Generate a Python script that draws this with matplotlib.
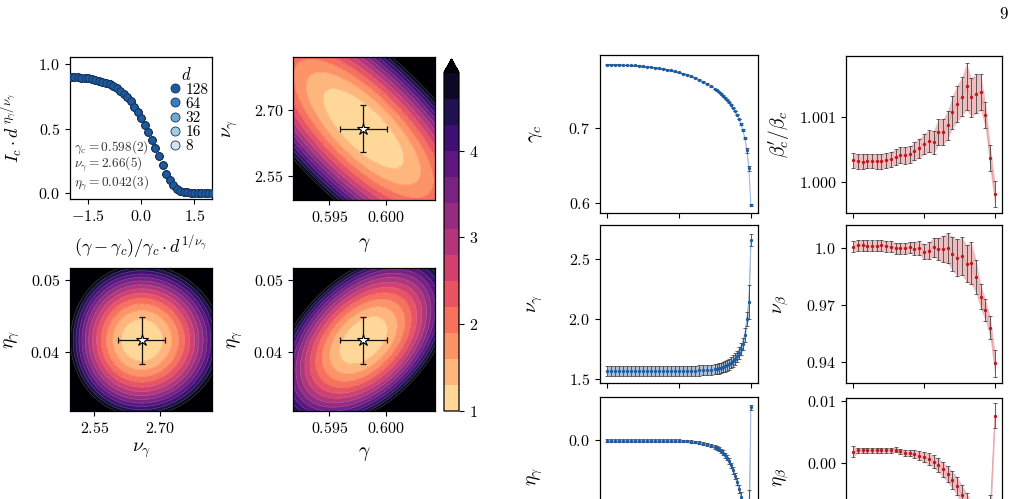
import numpy as np
import matplotlib
matplotlib.use('Agg')
import matplotlib.pyplot as plt
from matplotlib.lines import Line2D
from matplotlib.colors import Normalize

plt.rcParams.update({
    'font.family': 'serif', 'font.serif': ['cmr10'], 'mathtext.fontset': 'cm',
    'axes.formatter.use_mathtext': True, 'axes.linewidth': 0.9,
    'xtick.direction': 'out', 'ytick.direction': 'out',
    'xtick.major.size': 3.5, 'ytick.major.size': 3.5,
    'xtick.major.width': 0.8, 'ytick.major.width': 0.8,
    'xtick.labelsize': 11.5, 'ytick.labelsize': 11.5,
})

# ---------------- data ----------------
# scaling collapse (panel a)
sizes_d = [128, 64, 32, 16, 8]
d_colors = ['#1f5b9c', '#3a7dbb', '#6fa9d6', '#a3cbe4', '#d2e4f3']
collapse_x = [-2.0, -1.9, -1.8, -1.7, -1.6, -1.5, -1.4, -1.3, -1.2, -1.1, -1.0, -0.9, -0.8, -0.7,
              -0.6, -0.5, -0.4, -0.3, -0.2, -0.1, 0.0, 0.1, 0.2, 0.3, 0.4, 0.5, 0.6, 0.7, 0.8, 0.9,
              1.0, 1.1, 1.2, 1.3, 1.4, 1.5, 1.6, 1.7, 1.8, 1.9, 2.0]
collapse_y = [0.904, 0.902, 0.900, 0.897, 0.894, 0.891, 0.886, 0.880, 0.874, 0.866, 0.857, 0.846,
              0.832, 0.815, 0.796, 0.772, 0.744, 0.712, 0.672, 0.628, 0.580, 0.528, 0.472, 0.413,
              0.350, 0.285, 0.215, 0.150, 0.100, 0.062, 0.036, 0.020, 0.011, 0.006, 0.003, 0.002,
              0.001, 0.0, 0.0, 0.0, 0.0]

# best fit values and errors
gamma_c, gamma_err = 0.598, 0.0021
nu_g, nu_err = 2.658, 0.054
eta_g, eta_err = 0.0416, 0.0033

# landscape parameters: (rho, scale)
land_gn = (-0.753, 0.105)
land_ne = (0.0, 0.30)
land_ge = (0.45, 0.30)
levels = [1.0, 1.3, 1.6, 1.9, 2.2, 2.5, 2.8, 3.1, 3.4, 3.7, 4.0, 4.3, 4.6, 4.9]

# right column: blue series
xb = [0.000, 0.028, 0.056, 0.083, 0.111, 0.139, 0.167, 0.194, 0.222, 0.250, 0.278, 0.306, 0.333,
      0.361, 0.389, 0.417, 0.444, 0.472, 0.500, 0.528, 0.556, 0.583, 0.611, 0.639, 0.667, 0.694,
      0.722, 0.750, 0.764, 0.778, 0.792, 0.806, 0.819, 0.833, 0.847, 0.861, 0.875, 0.889, 0.903,
      0.917, 0.931, 0.944, 0.958, 0.972, 0.986, 1.000]
gc_vals = [0.7837, 0.7836, 0.7835, 0.7834, 0.7832, 0.7830, 0.7828, 0.7824, 0.7820, 0.7815, 0.7810,
           0.7804, 0.7797, 0.7789, 0.7780, 0.7770, 0.7759, 0.7746, 0.7732, 0.7717, 0.7700, 0.7681,
           0.7660, 0.7637, 0.7611, 0.7582, 0.7550, 0.7514, 0.7494, 0.7472, 0.7449, 0.7424, 0.7398,
           0.7370, 0.7338, 0.7303, 0.7264, 0.7220, 0.7170, 0.7114, 0.7048, 0.6968, 0.6860, 0.6700,
           0.6460, 0.5980]
gc_err = [0.0005] * 40 + [0.0008, 0.001, 0.0015, 0.003, 0.0035, 0.0015]
nug_vals = [1.565, 1.565, 1.565, 1.565, 1.565, 1.565, 1.565, 1.565, 1.565, 1.565, 1.565, 1.565,
            1.565, 1.565, 1.565, 1.565, 1.565, 1.566, 1.566, 1.566, 1.567, 1.567, 1.568, 1.569,
            1.570, 1.571, 1.573, 1.578, 1.582, 1.586, 1.591, 1.597, 1.604, 1.612, 1.622, 1.634,
            1.648, 1.665, 1.688, 1.716, 1.750, 1.790, 1.865, 2.000, 2.140, 2.657]
nug_err = [0.042] * 28 + [0.043, 0.043, 0.044, 0.044, 0.045, 0.045, 0.046, 0.046, 0.047, 0.047,
                          0.048, 0.049, 0.050, 0.052, 0.055, 0.060, 0.140, 0.050]
etag_vals = [-0.0012] * 19 + [-0.0016, -0.0020, -0.0025, -0.0030, -0.0038, -0.0050, -0.0062,
                              -0.0076, -0.0095, -0.0108, -0.0125, -0.0145, -0.0170, -0.0200,
                              -0.0235, -0.0280, -0.0335, -0.0400, -0.0470, -0.0550, -0.0640,
                              -0.0740, -0.0850, -0.0980, -0.1120, -0.1250, 0.0420]
etag_err = [0.0015] * 22 + [0.0017, 0.0018, 0.002, 0.002, 0.0022, 0.0024, 0.0025, 0.0026, 0.0028,
                            0.003, 0.0032, 0.0034, 0.0036, 0.0038, 0.004, 0.0043, 0.0046, 0.005,
                            0.0055, 0.006, 0.007, 0.01, 0.06, 0.003]

# right column: red series
xr = [0.000, 0.033, 0.067, 0.100, 0.133, 0.167, 0.200, 0.233, 0.267, 0.300, 0.333, 0.367, 0.400,
      0.433, 0.467, 0.500, 0.533, 0.567, 0.600, 0.633, 0.667, 0.700, 0.733, 0.767, 0.800, 0.833,
      0.867, 0.900, 0.933, 0.967, 1.000]
beta_vals = [1.000328, 1.000313, 1.000308, 1.000323, 1.000318, 1.000313, 1.000313, 1.000328,
             1.000344, 1.000379, 1.000410, 1.000405, 1.000420, 1.000472, 1.000513, 1.000580,
             1.000620, 1.000605, 1.000759, 1.000759, 1.000867, 1.001067, 1.001195, 1.001308,
             1.001462, 1.001297, 1.001349, 1.001374, 1.001026, 1.000364, 0.999810]
beta_err = [0.00011] * 8 + [0.00012, 0.00012, 0.00012, 0.00013, 0.00013, 0.00014, 0.00015,
                            0.00016, 0.00017, 0.00018, 0.0002, 0.0002, 0.00022, 0.00025,
                            0.00028, 0.0003, 0.00036, 0.0003, 0.0003, 0.00028, 0.0002, 0.0002,
                            0.0002]
nub_vals = [1.0009, 1.0016, 1.0016, 1.0012, 1.0012, 1.0012, 1.0016, 1.0011, 1.0009, 1.0000,
            1.0000, 1.0000, 1.0005, 0.9998, 1.0002, 0.9981, 0.9988, 1.0005, 0.9996, 0.9996,
            1.0000, 0.9972, 0.9951, 0.9959, 0.9919, 0.9922, 0.9850, 0.9744, 0.9674, 0.9580,
            0.9391]
nub_err = [0.0029] * 12 + [0.003, 0.0033, 0.0036, 0.004, 0.0045, 0.005, 0.006, 0.007, 0.008,
                           0.009, 0.0097, 0.01, 0.01, 0.011, 0.009, 0.0066, 0.0057, 0.006, 0.007]
etab_vals = [0.00186, 0.00207, 0.00210, 0.00210, 0.00207, 0.00207, 0.00207, 0.00207, 0.00210,
             0.00213, 0.00190, 0.00170, 0.00165, 0.00149, 0.00122, 0.00096, 0.00070, 0.00027,
             -0.00027, -0.00096, -0.00176, -0.00266, -0.00362, -0.00505, -0.00650, -0.00800,
             -0.00950, -0.01100, -0.01200, -0.00800, 0.00760]
etab_err = [0.0009] + [0.0004] * 10 + [0.0005, 0.0005, 0.0006, 0.0007, 0.0008, 0.0009, 0.001,
                                      0.0011, 0.0012, 0.0013, 0.0014, 0.0015, 0.0016, 0.0018,
                                      0.002, 0.0022, 0.0025, 0.0028, 0.003, 0.002]

# ---------------- figure ----------------
W, H = 1015, 499
fig = plt.figure(figsize=(W / 100, H / 100), dpi=100)


def ax_px(left, top, w, h):
    return fig.add_axes([left / W, 1 - (top + h) / H, w / W, h / H])


def mt(vals, fmt):
    return ['$' + (fmt % v) + '$' for v in vals]


# ---- panel a: collapse ----
axA = ax_px(70, 57, 142, 142)
for d, col in list(zip(sizes_d, d_colors))[::-1]:
    axA.scatter(collapse_x, collapse_y, s=28, facecolor=col, edgecolor='#13325a', lw=0.6, zorder=3)
axA.set_xlim(-2.02, 2.0)
axA.set_ylim(-0.045, 1.057)
axA.set_xticks([-1.5, 0.0, 1.5])
axA.set_xticklabels(mt([-1.5, 0.0, 1.5], '%.1f'))
axA.set_yticks([0.0, 0.5, 1.0])
axA.set_yticklabels(mt([0.0, 0.5, 1.0], '%.1f'))
handles = [Line2D([], [], ls='none', marker='o', ms=6.5, mfc=c, mec='#13325a', mew=0.6)
           for c in d_colors]
leg = axA.legend(handles, [str(d) for d in sizes_d], title='$d$', loc='upper right',
                 bbox_to_anchor=(1.0, 0.965),
                 frameon=False, fontsize=11, title_fontsize=12, handletextpad=0.0,
                 labelspacing=0.02, borderaxespad=0.1, handlelength=1.3, borderpad=0.15)
txt = [r'$\gamma_c = %.3f(2)$' % gamma_c, r'$\nu_\gamma = 2.66(5)$', r'$\eta_\gamma = 0.042(3)$']
for ypos, t in zip([0.366, 0.24, 0.113], txt):
    axA.text(0.03, ypos, t, transform=axA.transAxes, fontsize=9.6, va='center',
             color='#333333', zorder=6)
axA.set_xlabel(r'$(\gamma-\gamma_c)/\gamma_c\cdot d^{1/\nu_\gamma}$', fontsize=13)
axA.set_ylabel(r'$I_c\cdot d^{\,\eta_\gamma/\nu_\gamma}$', fontsize=13)
axA.xaxis.set_label_coords(0.5, -0.24)
axA.yaxis.set_label_coords(-0.32, 0.5)


# ---- contour landscapes ----
norm = Normalize(vmin=0.8, vmax=5.05)


def landscape(xc, xs, yc, ys, rho, s, xlim, ylim, skew=0.0, sx=1.0, sy=1.0):
    gx = np.linspace(xlim[0], xlim[1], 300)
    gy = np.linspace(ylim[0], ylim[1], 300)
    X, Y = np.meshgrid(gx, gy)
    u = (X - xc) / xs
    u = sx * u - skew * u ** 2
    v = sy * (Y - yc) / ys
    q = (u ** 2 + v ** 2 - 2 * rho * u * v) / (1 - rho ** 2)
    return X, Y, 1 + s * q


def contour_panel(ax, X, Y, F, xc, yc, xe, ye):
    cs = ax.contourf(X, Y, F, levels=levels, cmap='magma_r', norm=norm, extend='max')
    ax.contour(X, Y, F, levels=levels, colors='white', linewidths=0.35, alpha=0.35)
    ax.errorbar([xc], [yc], xerr=[xe], yerr=[ye], fmt='none', ecolor='#111111',
                elinewidth=0.9, capsize=2.2, capthick=0.9, zorder=4)
    ax.plot([xc], [yc], marker='*', ms=9, mfc='white', mec='black', mew=0.8, zorder=5)
    return cs


g_lim = (0.5918, 0.6043)
n_lim = (2.4945, 2.8217)
e_lim = (0.03173, 0.05167)

axB = ax_px(293, 57, 142, 143)
X, Y, F = landscape(gamma_c, gamma_err, nu_g, nu_err, land_gn[0], land_gn[1], g_lim, n_lim)
cs = contour_panel(axB, X, Y, F, gamma_c, nu_g, gamma_err, nu_err)
axB.set_xlim(*g_lim); axB.set_ylim(*n_lim)
axB.set_xticks([0.595, 0.600]); axB.set_xticklabels(mt([0.595, 0.600], '%.3f'))
axB.set_yticks([2.55, 2.70]); axB.set_yticklabels(mt([2.55, 2.70], '%.2f'))
axB.set_xlabel(r'$\gamma$', fontsize=14)
axB.set_ylabel(r'$\nu_\gamma$', fontsize=14)
axB.xaxis.set_label_coords(0.5, -0.25)
axB.yaxis.set_label_coords(-0.37, 0.5)

axC = ax_px(70, 268, 142, 143)
X, Y, F = landscape(nu_g, nu_err, eta_g, eta_err, land_ne[0], land_ne[1], (2.4945, 2.8187), e_lim,
                    skew=0.02, sx=1.14, sy=1.13)
contour_panel(axC, X, Y, F, nu_g, eta_g, nu_err, eta_err)
axC.set_xlim(2.4945, 2.8187); axC.set_ylim(*e_lim)
axC.set_xticks([2.55, 2.70]); axC.set_xticklabels(mt([2.55, 2.70], '%.2f'))
axC.set_yticks([0.04, 0.05]); axC.set_yticklabels(mt([0.04, 0.05], '%.2f'))
axC.set_xlabel(r'$\nu_\gamma$', fontsize=14)
axC.set_ylabel(r'$\eta_\gamma$', fontsize=14)
axC.xaxis.set_label_coords(0.5, -0.21)
axC.yaxis.set_label_coords(-0.34, 0.5)

axD = ax_px(293, 268, 142, 143)
X, Y, F = landscape(gamma_c, gamma_err, eta_g, eta_err, land_ge[0], land_ge[1], g_lim, e_lim)
contour_panel(axD, X, Y, F, gamma_c, eta_g, gamma_err, eta_err)
axD.set_xlim(*g_lim); axD.set_ylim(*e_lim)
axD.set_xticks([0.595, 0.600]); axD.set_xticklabels(mt([0.595, 0.600], '%.3f'))
axD.set_yticks([0.04, 0.05]); axD.set_yticklabels(mt([0.04, 0.05], '%.2f'))
axD.set_xlabel(r'$\gamma$', fontsize=14)
axD.set_ylabel(r'$\eta_\gamma$', fontsize=14)
axD.xaxis.set_label_coords(0.5, -0.24)
axD.yaxis.set_label_coords(-0.34, 0.5)

cax = ax_px(444, 59, 15, 352)
cb = fig.colorbar(cs, cax=cax, ticks=[1, 2, 3, 4], extendfrac=0.04)
cb.ax.set_yticklabels(mt([1, 2, 3, 4], '%d'))
cb.outline.set_linewidth(0.9)
cb.ax.tick_params(length=3.5, width=0.8)


# ---- right column ----
def series(ax, x, y, e, mcol, bandcol, bandalpha, lcol):
    x, y, e = np.asarray(x), np.asarray(y), np.asarray(e)
    ax.fill_between(x, y - e, y + e, color=bandcol, alpha=bandalpha, lw=0)
    ax.plot(x, y, color=lcol, lw=0.6)
    ax.errorbar(x, y, yerr=e, fmt='none', ecolor='#3a3a3a', elinewidth=0.55, capsize=1.2,
                capthick=0.55)
    ax.plot(x, y, 'o', ms=2.4, color=mcol, mec='none')
    ax.set_xlim(-0.05, 1.05)
    ax.set_xticks([0.0, 0.5, 1.0])
    ax.set_xticklabels([])


blue, blueband, blueline = '#1a5aa6', '#4a6f96', '#8fb0d8'
red, redband, redline = '#c0141c', '#c0141c', '#e7a0a5'

r1 = ax_px(600, 55, 158, 158)
series(r1, xb, gc_vals, gc_err, blue, blueband, 0.45, blueline)
r1.set_ylim(0.587, 0.7963)
r1.set_yticks([0.6, 0.7]); r1.set_yticklabels(mt([0.6, 0.7], '%.1f'))
r1.set_ylabel(r'$\gamma_c$', fontsize=14)

r2 = ax_px(600, 225, 158, 158)
series(r2, xb, nug_vals, nug_err, blue, blueband, 0.45, blueline)
r2.set_ylim(1.4645, 2.7845)
r2.set_yticks([1.5, 2.0, 2.5]); r2.set_yticklabels(mt([1.5, 2.0, 2.5], '%.1f'))
r2.set_ylabel(r'$\nu_\gamma$', fontsize=14)

r3 = ax_px(600, 397, 158, 158)
series(r3, xb, etag_vals, etag_err, blue, blueband, 0.45, blueline)
r3.set_ylim(-0.150, 0.0555)
r3.set_yticks([0.0]); r3.set_yticklabels(mt([0.0], '%.1f'))
r3.set_ylabel(r'$\eta_\gamma$', fontsize=14)

s1 = ax_px(846, 56, 156, 157)
series(s1, xr, beta_vals, beta_err, red, redband, 0.28, redline)
s1.set_ylim(0.99952, 1.00193)
s1.set_yticks([1.000, 1.001]); s1.set_yticklabels(mt([1.000, 1.001], '%.3f'))
s1.set_ylabel(r"$\beta_c'/\beta_c$", fontsize=14)

s2 = ax_px(846, 225, 156, 158)
series(s2, xr, nub_vals, nub_err, red, redband, 0.28, redline)
s2.set_ylim(0.9287, 1.0123)
s2.set_yticks([0.94, 0.97, 1.0]); s2.set_yticklabels(['$0.94$', '$0.97$', '$1.0$'])
s2.set_ylabel(r'$\nu_\beta$', fontsize=14)

s3 = ax_px(846, 398, 156, 158)
series(s3, xr, etab_vals, etab_err, red, redband, 0.28, redline)
s3.set_ylim(-0.0148, 0.01043)
s3.set_yticks([0.0, 0.01]); s3.set_yticklabels(mt([0.0, 0.01], '%.2f'))
s3.set_ylabel(r'$\eta_\beta$', fontsize=14)

for a in (r1, r2, r3):
    a.yaxis.set_label_coords(-0.345, 0.5)
for a in (s1, s2, s3):
    a.yaxis.set_label_coords(-0.355, 0.5)

fig.text(1003 / W, 1 - 14 / H, '9', ha='center', va='center', fontsize=12)

fig.savefig('out.png', dpi=100)
